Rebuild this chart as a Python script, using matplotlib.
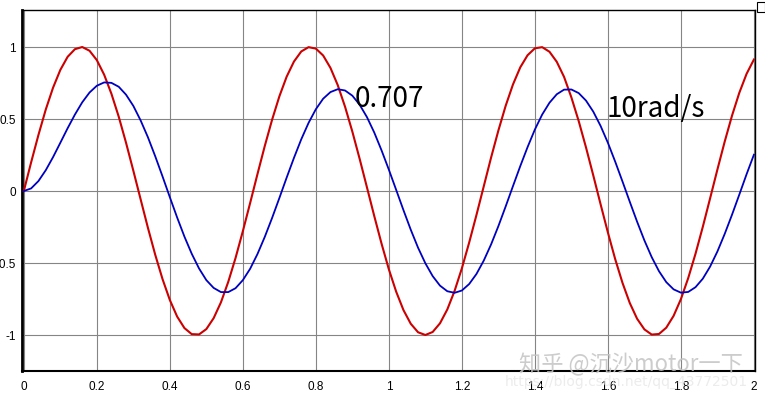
import matplotlib
matplotlib.use("Agg")
import matplotlib.pyplot as plt
import numpy as np
from matplotlib.patches import Rectangle

# scope traces, sampled every 0.02 s from 0 to 2 s
t = np.linspace(0, 2, 101)

# input sine (red)
u = [
    0.000, 0.199, 0.389, 0.565, 0.717, 0.841, 0.932, 0.985, 1.000, 0.974,
    0.909, 0.808, 0.675, 0.516, 0.335, 0.141, -0.058, -0.256, -0.443, -0.612,
    -0.757, -0.872, -0.952, -0.994, -0.996, -0.959, -0.883, -0.773, -0.631, -0.465,
    -0.279, -0.083, 0.117, 0.312, 0.494, 0.657, 0.794, 0.899, 0.969, 0.999,
    0.989, 0.941, 0.855, 0.735, 0.585, 0.412, 0.223, 0.025, -0.174, -0.366,
    -0.544, -0.699, -0.827, -0.922, -0.981, -1.000, -0.979, -0.919, -0.823, -0.694,
    -0.537, -0.358, -0.166, 0.033, 0.232, 0.420, 0.592, 0.740, 0.859, 0.943,
    0.991, 0.999, 0.967, 0.897, 0.792, 0.650, 0.486, 0.303, 0.108, -0.092,
    -0.288, -0.473, -0.638, -0.778, -0.887, -0.961, -0.997, -0.993, -0.949, -0.867,
    -0.751, -0.605, -0.436, -0.249, -0.051, 0.149, 0.343, 0.523, 0.682, 0.814,
    0.913,
]

# system output (blue)
y = [
    0.000, 0.018, 0.069, 0.144, 0.235, 0.335, 0.436, 0.531, 0.616, 0.684,
    0.731, 0.754, 0.751, 0.724, 0.669, 0.591, 0.490, 0.373, 0.241, 0.101,
    -0.043, -0.184, -0.317, -0.436, -0.538, -0.619, -0.673, -0.702, -0.702, -0.675,
    -0.619, -0.540, -0.438, -0.319, -0.188, -0.049, 0.093, 0.230, 0.359, 0.473,
    0.568, 0.641, 0.687, 0.707, 0.698, 0.662, 0.599, 0.513, 0.406, 0.282,
    0.148, 0.008, -0.133, -0.269, -0.394, -0.502, -0.591, -0.657, -0.696, -0.707,
    -0.691, -0.646, -0.576, -0.483, -0.371, -0.244, -0.107, 0.034, 0.173, 0.305,
    0.427, 0.531, 0.613, 0.672, 0.704, 0.705, 0.680, 0.628, 0.551, 0.452,
    0.335, 0.204, 0.066, -0.075, -0.213, -0.343, -0.459, -0.557, -0.633, -0.683,
    -0.706, -0.701, -0.668, -0.609, -0.525, -0.420, -0.298, -0.165, -0.025, 0.117,
    0.252,
]

xticks = [0, 0.2, 0.4, 0.6, 0.8, 1.0, 1.2, 1.4, 1.6, 1.8, 2.0]
xtick_labels = ["0", "0.2", "0.4", "0.6", "0.8", "1", "1.2", "1.4", "1.6", "1.8", "2"]
yticks = [-1, -0.5, 0, 0.5, 1]
ytick_labels = ["-1", "-0.5", "0", "0.5", "1"]

fig = plt.figure(figsize=(7.65, 3.93), dpi=100, facecolor="white")
ax = fig.add_axes([22 / 765, 1 - 371 / 393, 733 / 765, 361 / 393])

ax.plot(t, u, color="#CC0000", linewidth=1.5, zorder=3)
ax.plot(t, y, color="#0000C0", linewidth=1.3, zorder=3)

ax.set_xlim(-0.005, 2.003)
ax.set_ylim(-1.25, 1.257)
ax.set_xticks(xticks)
ax.set_xticklabels(xtick_labels)
ax.set_yticks(yticks)
ax.set_yticklabels(ytick_labels)
ax.tick_params(length=0, labelsize=8.5, colors="black")
ax.tick_params(axis="x", pad=7)
ax.tick_params(axis="y", pad=4.5)
for lbl in ax.get_xticklabels() + ax.get_yticklabels():
    lbl.set_fontfamily("Liberation Sans")

ax.grid(True, color="#858585", linewidth=0.8)
ax.set_axisbelow(True)
for side, spine in ax.spines.items():
    spine.set_edgecolor("black")
    spine.set_linewidth(1.0)
ax.spines["left"].set_linewidth(2.0)
ax.spines["bottom"].set_linewidth(1.5)

# annotations
ax.text(0.905, 0.583, "0.707", fontsize=20, family="Noto Sans CJK SC", color="black", zorder=4)
ax.text(1.597, 0.514, "10rad/s", fontsize=20, family="Noto Sans CJK SC", color="black", zorder=4)

# small scope icon at top right
fig.patches.append(Rectangle((757 / 765, 1 - 12 / 393), 8 / 765, 10 / 393,
                             transform=fig.transFigure, facecolor="white",
                             edgecolor="black", linewidth=0.8))

# watermarks
fig.text(505 / 765, 1 - 386 / 393, "https://blog.csdn.net/qq_43772501",
         fontsize=10, color="#E4E4E4", alpha=0.7)
fig.text(519 / 765, 1 - 371 / 393, "知乎 @沉沙motor一下", fontsize=16,
         family=["Noto Sans CJK SC", "DejaVu Sans"], color="#C4C4C4", alpha=0.85)

fig.savefig("out.png", dpi=100, facecolor="white")
